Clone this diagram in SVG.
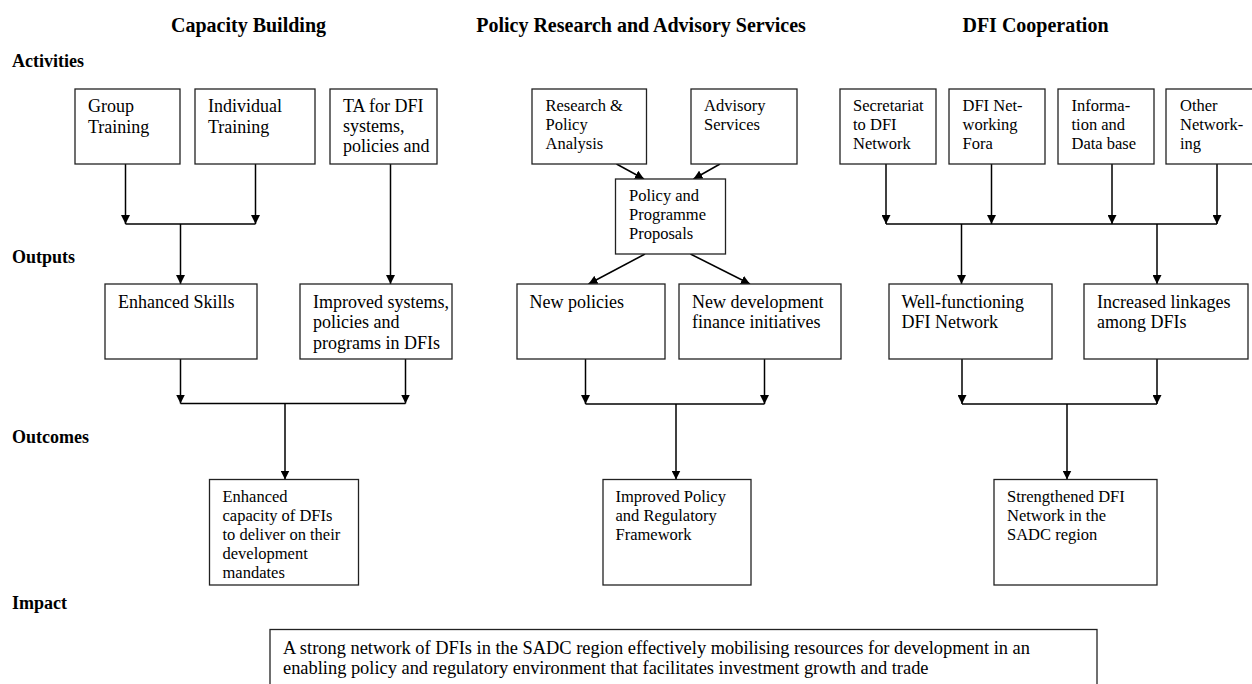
<svg xmlns="http://www.w3.org/2000/svg" width="1252" height="684" viewBox="0 0 1252 684">
  <style>
    .title { font-family: "Liberation Serif", "Times New Roman", serif; font-weight: bold; font-size: 20px; fill: #000; text-anchor: middle; }
    .row { font-family: "Liberation Serif", "Times New Roman", serif; font-weight: bold; font-size: 18px; fill: #000; }
    .box { fill: #fff; stroke: #222; stroke-width: 1.3; }
    .t18 { font-family: "Liberation Serif", "Times New Roman", serif; font-size: 18px; fill: #000; }
    .t16 { font-family: "Liberation Serif", "Times New Roman", serif; font-size: 16.5px; fill: #000; }
    .imp { font-family: "Liberation Serif", "Times New Roman", serif; font-size: 18.4px; fill: #000; }
    .edge { fill: none; stroke: #000; stroke-width: 1.5; }
    .arr { marker-end: url(#head); }
  </style>
  <defs>
    <marker id="head" markerUnits="userSpaceOnUse" markerWidth="9" markerHeight="9" refX="9" refY="4.5" orient="auto">
      <path d="M0,0 L9,4.5 L0,9 z" fill="#000"/>
    </marker>
  </defs>
  <rect width="1252" height="684" fill="#fff"/>

  <!-- column titles -->
  <text class="title" x="248.5" y="32">Capacity Building</text>
  <text class="title" x="641" y="32">Policy Research and Advisory Services</text>
  <text class="title" x="1035.5" y="32">DFI Cooperation</text>

  <!-- row labels -->
  <text class="row" x="12" y="67">Activities</text>
  <text class="row" x="12" y="263">Outputs</text>
  <text class="row" x="12" y="443">Outcomes</text>
  <text class="row" x="12" y="609">Impact</text>

  <!-- connectors -->
  <g id="connectors">
    <!-- Capacity Building -->
    <line class="edge arr" x1="125.5" y1="164" x2="125.5" y2="224"/>
    <line class="edge arr" x1="255.5" y1="164" x2="255.5" y2="224"/>
    <line class="edge" x1="125.5" y1="224" x2="255.5" y2="224"/>
    <line class="edge arr" x1="180.5" y1="224" x2="180.5" y2="284"/>
    <line class="edge arr" x1="390.5" y1="164" x2="390.5" y2="284"/>
    <line class="edge arr" x1="180.5" y1="359" x2="180.5" y2="403.5"/>
    <line class="edge arr" x1="405.5" y1="359" x2="405.5" y2="403.5"/>
    <line class="edge" x1="180.5" y1="403.5" x2="405.5" y2="403.5"/>
    <line class="edge arr" x1="285" y1="403.5" x2="285" y2="479.5"/>
    <!-- Policy Research and Advisory Services -->
    <line class="edge arr" x1="616.5" y1="164" x2="644" y2="179"/>
    <line class="edge arr" x1="720" y1="164" x2="693.5" y2="179"/>
    <line class="edge arr" x1="645" y1="254" x2="588.5" y2="284"/>
    <line class="edge arr" x1="690.5" y1="254" x2="750" y2="284"/>
    <line class="edge arr" x1="585.5" y1="359" x2="585.5" y2="404"/>
    <line class="edge arr" x1="764.5" y1="359" x2="764.5" y2="404"/>
    <line class="edge" x1="585.5" y1="404" x2="764.5" y2="404"/>
    <line class="edge arr" x1="676" y1="404" x2="676" y2="479.5"/>
    <!-- DFI Cooperation -->
    <line class="edge arr" x1="886" y1="164" x2="886" y2="224"/>
    <line class="edge arr" x1="991.5" y1="164" x2="991.5" y2="224"/>
    <line class="edge arr" x1="1112" y1="164" x2="1112" y2="224"/>
    <line class="edge arr" x1="1217" y1="164" x2="1217" y2="224"/>
    <line class="edge" x1="886" y1="224" x2="1217" y2="224"/>
    <line class="edge arr" x1="961.5" y1="224" x2="961.5" y2="284"/>
    <line class="edge arr" x1="1157" y1="224" x2="1157" y2="284"/>
    <line class="edge arr" x1="962" y1="359" x2="962" y2="404"/>
    <line class="edge arr" x1="1157" y1="359" x2="1157" y2="404"/>
    <line class="edge" x1="962" y1="404" x2="1157" y2="404"/>
    <line class="edge arr" x1="1067" y1="404" x2="1067" y2="479.5"/>
  </g>

  <!-- activities -->
  <g id="group-training">
    <rect class="box" x="75" y="89" width="105" height="75"/>
    <text class="t18" x="88" y="112"><tspan x="88">Group</tspan><tspan x="88" dy="20.7">Training</tspan></text>
  </g>
  <g id="individual-training">
    <rect class="box" x="195" y="89" width="120" height="75"/>
    <text class="t18" x="208" y="112"><tspan x="208">Individual</tspan><tspan x="208" dy="20.7">Training</tspan></text>
  </g>
  <g id="ta-dfi">
    <rect class="box" x="330" y="89" width="107" height="75"/>
    <text class="t18" x="343" y="112"><tspan x="343">TA for DFI</tspan><tspan x="343" dy="20">systems,</tspan><tspan x="343" dy="20">policies and</tspan></text>
  </g>
  <g id="research">
    <rect class="box" x="532" y="89" width="114.5" height="75"/>
    <text class="t16" x="545.5" y="111"><tspan x="545.5">Research &amp;</tspan><tspan x="545.5" dy="19">Policy</tspan><tspan x="545.5" dy="19">Analysis</tspan></text>
  </g>
  <g id="advisory">
    <rect class="box" x="691" y="89" width="106" height="75"/>
    <text class="t16" x="704" y="111"><tspan x="704">Advisory</tspan><tspan x="704" dy="19">Services</tspan></text>
  </g>
  <g id="proposals">
    <rect class="box" x="615.5" y="179" width="110" height="75"/>
    <text class="t16" x="629" y="201"><tspan x="629">Policy and</tspan><tspan x="629" dy="19">Programme</tspan><tspan x="629" dy="19">Proposals</tspan></text>
  </g>
  <g id="secretariat">
    <rect class="box" x="840" y="89" width="96" height="75"/>
    <text class="t16" x="853" y="111"><tspan x="853">Secretariat</tspan><tspan x="853" dy="19">to DFI</tspan><tspan x="853" dy="19">Network</tspan></text>
  </g>
  <g id="networking-fora">
    <rect class="box" x="949" y="89" width="96" height="75"/>
    <text class="t16" x="962.5" y="111"><tspan x="962.5">DFI Net-</tspan><tspan x="962.5" dy="19">working</tspan><tspan x="962.5" dy="19">Fora</tspan></text>
  </g>
  <g id="information">
    <rect class="box" x="1058" y="89" width="96" height="75"/>
    <text class="t16" x="1071.5" y="111"><tspan x="1071.5">Informa-</tspan><tspan x="1071.5" dy="19">tion and</tspan><tspan x="1071.5" dy="19">Data base</tspan></text>
  </g>
  <g id="other-networking">
    <rect class="box" x="1166" y="89" width="96" height="75"/>
    <text class="t16" x="1180" y="111"><tspan x="1180">Other</tspan><tspan x="1180" dy="19">Network-</tspan><tspan x="1180" dy="19">ing</tspan></text>
  </g>

  <!-- outputs -->
  <g id="enhanced-skills">
    <rect class="box" x="105" y="284" width="152" height="75"/>
    <text class="t18" x="118" y="308">Enhanced Skills</text>
  </g>
  <g id="improved-systems">
    <rect class="box" x="300" y="284" width="152" height="75"/>
    <text class="t18" x="313" y="308"><tspan x="313">Improved systems,</tspan><tspan x="313" dy="20.3">policies and</tspan><tspan x="313" dy="20.3">programs in DFIs</tspan></text>
  </g>
  <g id="new-policies">
    <rect class="box" x="517" y="284" width="148" height="75"/>
    <text class="t18" x="529.5" y="308">New policies</text>
  </g>
  <g id="new-initiatives">
    <rect class="box" x="679" y="284" width="162" height="75"/>
    <text class="t18" x="692" y="308"><tspan x="692">New development</tspan><tspan x="692" dy="20.3">finance initiatives</tspan></text>
  </g>
  <g id="dfi-network">
    <rect class="box" x="889" y="284" width="163" height="75"/>
    <text class="t18" x="901.5" y="308"><tspan x="901.5">Well-functioning</tspan><tspan x="901.5" dy="20.3">DFI Network</tspan></text>
  </g>
  <g id="linkages">
    <rect class="box" x="1084" y="284" width="164" height="75"/>
    <text class="t18" x="1097" y="308"><tspan x="1097">Increased linkages</tspan><tspan x="1097" dy="20.3">among DFIs</tspan></text>
  </g>

  <!-- outcomes -->
  <g id="dfi-capacity">
    <rect class="box" x="209.5" y="479.5" width="149" height="105.5"/>
    <text class="t16" x="222.5" y="502"><tspan x="222.5">Enhanced</tspan><tspan x="222.5" dy="18.9">capacity of DFIs</tspan><tspan x="222.5" dy="18.9">to deliver on their</tspan><tspan x="222.5" dy="18.9">development</tspan><tspan x="222.5" dy="18.9">mandates</tspan></text>
  </g>
  <g id="policy-framework">
    <rect class="box" x="603" y="479.5" width="148" height="105.5"/>
    <text class="t16" x="615.5" y="502"><tspan x="615.5">Improved Policy</tspan><tspan x="615.5" dy="18.9">and Regulatory</tspan><tspan x="615.5" dy="18.9">Framework</tspan></text>
  </g>
  <g id="dfi-network-sadc">
    <rect class="box" x="994" y="479.5" width="163" height="105.5"/>
    <text class="t16" x="1007" y="502"><tspan x="1007">Strengthened DFI</tspan><tspan x="1007" dy="18.9">Network in the</tspan><tspan x="1007" dy="18.9">SADC region</tspan></text>
  </g>

  <!-- impact -->
  <g id="impact">
    <rect class="box" x="270" y="629.5" width="827" height="80"/>
    <text class="imp" x="283" y="654"><tspan x="283">A strong network of DFIs in the SADC region effectively mobilising resources for development in an</tspan><tspan x="283" dy="20">enabling policy and regulatory environment that facilitates investment growth and trade</tspan></text>
  </g>
</svg>
